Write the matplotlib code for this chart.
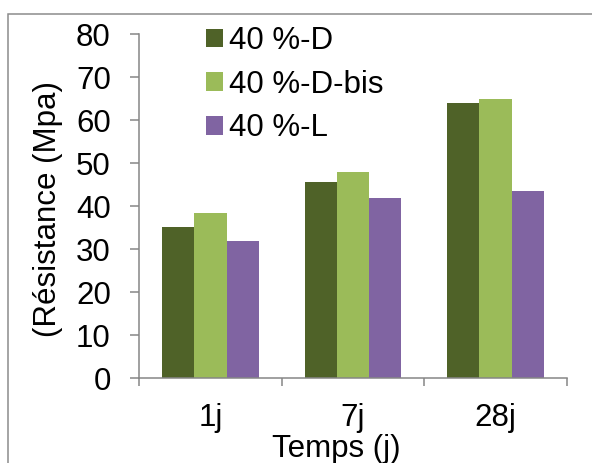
import numpy as np
import matplotlib
matplotlib.use('Agg')
import matplotlib.pyplot as plt
from matplotlib.patches import Rectangle

# Données
categories = ['1j', '7j', '28j']
d_vals = [35.2, 45.5, 64.0]
d_bis_vals = [38.4, 47.9, 64.9]
l_vals = [31.9, 41.9, 43.5]
series_names = ['40 %-D', '40 %-D-bis', '40 %-L']
colors = ['#4F6228', '#9BBB59', '#8064A2']

plt.rcParams['font.family'] = ['Liberation Sans', 'DejaVu Sans']
FS = 22.5
W, H = 592, 463
fig = plt.figure(figsize=(W / 100, H / 100), dpi=100)
ax = fig.add_axes([139.3 / W, 1 - 378.3 / H, (566.7 - 139.3) / W, (378.3 - 34) / H])

# cadre gris autour du graphique
fig.patches.append(Rectangle((8 / W, -0.1), 1.2, 1 - 14 / H + 0.1, transform=fig.transFigure,
                             fill=False, edgecolor='#8c8c8c', linewidth=1.1))

x = np.arange(len(categories))
w = 0.226
for i, (vals, name, c) in enumerate(zip([d_vals, d_bis_vals, l_vals], series_names, colors)):
    ax.bar(x + (i - 1) * w, vals, width=w, color=c, label=name, zorder=2)

ax.set_xlim(-0.5, 2.5)
ax.set_ylim(0, 80)
ax.set_yticks(range(0, 81, 10))
ax.set_xticks(x)
ax.set_xticklabels(categories)
ax.set_xticks([-0.5, 0.5, 1.5, 2.5], minor=True)

gray = '#868686'
for s in ['top', 'right']:
    ax.spines[s].set_visible(False)
for s in ['left', 'bottom']:
    ax.spines[s].set_color(gray)
    ax.spines[s].set_linewidth(1.1)

ax.tick_params(axis='y', length=6.5, width=1.1, color=gray, labelsize=FS, pad=14)
ax.tick_params(axis='x', which='major', length=0, labelsize=FS, pad=18)
ax.tick_params(axis='x', which='minor', length=6, width=1.1, color=gray)

ax.set_ylabel('(Résistance (Mpa)', fontsize=FS)
ax.yaxis.set_label_coords(-(139.3 - 63) / (566.7 - 139.3), 0.491)
fig.text(336 / W, 1 - 434 / H, 'Temps (j)', fontsize=FS, ha='center', va='top')

ax.legend(loc='upper left', bbox_to_anchor=(206 / W, 1 - 26 / H), bbox_transform=fig.transFigure,
          frameon=False, fontsize=FS, handlelength=0.55, handleheight=0.55,
          handletextpad=0.2, labelspacing=0.44, borderpad=0, borderaxespad=0)

fig.savefig('out.png', dpi=100)
